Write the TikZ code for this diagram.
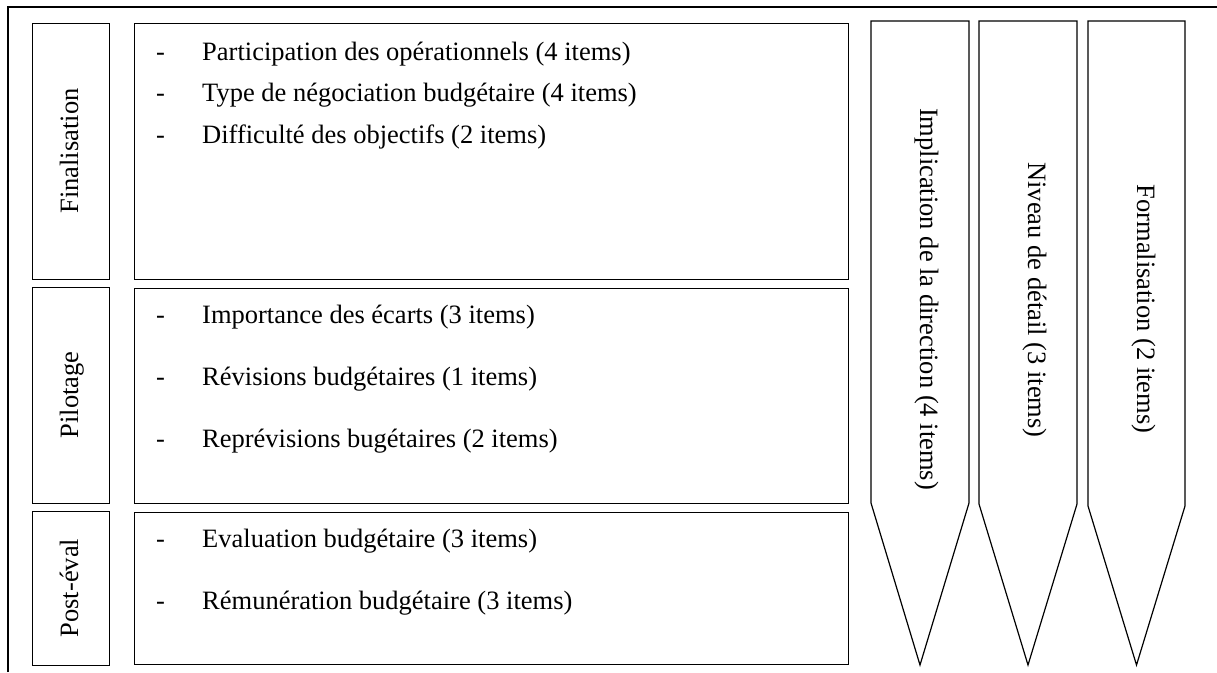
\documentclass[tikz,border=0pt]{standalone}
\usepackage{fontspec}
\setmainfont{Liberation Serif}
\begin{document}
\begin{tikzpicture}[x=1pt,y=-1pt,
  box/.style={draw,line width=1.2pt,inner sep=0pt,anchor=north west},
  lab/.style={font=\fontsize{26.5}{30}\selectfont,inner sep=0pt},
  item/.style={lab,anchor=base west},
  arrowshape/.style={draw,line width=1.2pt,line join=miter}]
\useasboundingbox (0,0) rectangle (1217,672);
% outer frame (cut off at right and bottom)
\coordinate (fbl) at (8,672);
\coordinate (ftl) at (8,7.3);
\coordinate (ftr) at (1217,7.3);
\draw[line width=1.8pt] (fbl) -- (ftl) -- (ftr);
% left label boxes
\node[box,minimum width=77pt,minimum height=256pt] (finlab) at (32,23) {};
\node[box,minimum width=77pt,minimum height=216pt] (pillab) at (32,287) {};
\node[box,minimum width=77pt,minimum height=154pt] (postlab) at (32,511) {};
% content boxes
\node[box,minimum width=714pt,minimum height=256pt] (finbox) at (134,23) {};
\node[box,minimum width=714pt,minimum height=215pt] (pilbox) at (134,288) {};
\node[box,minimum width=714pt,minimum height=152pt] (postbox) at (134,512) {};
% vertical labels
\node[lab,rotate=90,anchor=base] (fin) at (78,151) {Finalisation};
\node[lab,rotate=90,anchor=base] (pil) at (78,395) {Pilotage};
\node[lab,rotate=90,anchor=base] (post) at (78,588) {Post-éval};
% items
\node[item] (d1) at (156,60) {-};
\node[item] (t1) at (202,60) {Participation des opérationnels (4 items)};
\node[item] (d2) at (156,101.5) {-};
\node[item] (t2) at (202,101.5) {Type de négociation budgétaire (4 items)};
\node[item] (d3) at (156,143) {-};
\node[item] (t3) at (202,143) {Difficulté des objectifs (2 items)};
\node[item] (d4) at (156,323) {-};
\node[item] (t4) at (202,323) {Importance des écarts (3 items)};
\node[item] (d5) at (156,385) {-};
\node[item] (t5) at (202,385) {Révisions budgétaires (1 items)};
\node[item] (d6) at (156,447) {-};
\node[item] (t6) at (202,447) {Reprévisions bugétaires (2 items)};
\node[item] (d7) at (156,547) {-};
\node[item] (t7) at (202,547) {Evaluation budgétaire (3 items)};
\node[item] (d8) at (156,609) {-};
\node[item] (t8) at (202,609) {Rémunération budgétaire (3 items)};
% arrows
\draw[arrowshape] (871,21) -- (969,21) -- (969,503) -- (920,665) -- (871,503) -- cycle;
\draw[arrowshape] (979,21) -- (1077,21) -- (1077,504) -- (1028,665) -- (979,504) -- cycle;
\draw[arrowshape] (1088,21) -- (1185,21) -- (1185,506) -- (1136.5,665) -- (1088,506) -- cycle;
\node[lab,rotate=-90,anchor=base] (a1) at (920,299) {Implication de la direction (4 items)};
\node[lab,rotate=-90,anchor=base] (a2) at (1028,300) {Niveau de détail (3 items)};
\node[lab,rotate=-90,anchor=base] (a3) at (1137,309) {Formalisation (2 items)};
\end{tikzpicture}
\end{document}
